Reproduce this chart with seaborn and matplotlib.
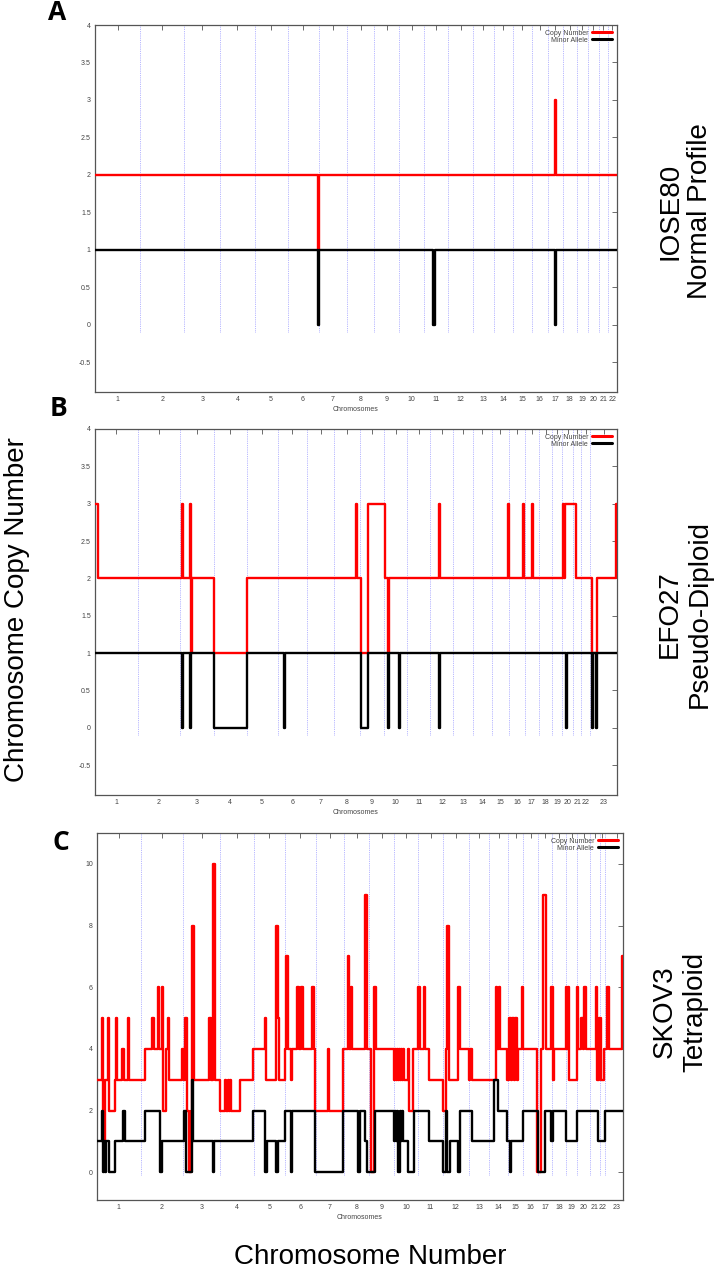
import pandas as pd
import seaborn as sns
import matplotlib.pyplot as plt

# chromosome lengths in Mb (hg19), used for panels A and B
chrom_len = [249.3, 243.2, 198.0, 191.2, 180.9, 171.1, 159.1, 146.4, 141.2, 135.5,
             135.0, 133.9, 115.2, 107.3, 102.5, 90.4, 81.2, 78.1, 59.1, 63.0,
             48.1, 51.3, 155.3]
chrom_labels = [str(i) for i in range(1, 24)]

# panel C chromosome end positions as drawn in that plot
c_chrom_ends = [262, 518, 736, 940, 1126, 1312, 1484, 1634, 1780, 1928, 2074, 2230,
                2354, 2466, 2558, 2648, 2732, 2812, 2882, 2958, 3018, 3046, 3192]
c_xmax = 3156

# --- A: IOSE80 ---
a_cn_pos = [0, 1231, 1237, 2539, 2545, 2881]
a_cn_val = [2, 1, 2, 3, 2, 2]
a_maf_pos = [0, 1231, 1237, 1864, 1876, 2539, 2545, 2881]
a_maf_val = [1, 0, 1, 0, 1, 0, 1, 1]

# --- B: EFO27 ---
b_cn_pos = [0, 16, 504, 510, 550, 556, 562, 692, 884, 1518, 1524, 1547, 1588,
            1687, 1704, 1710, 2000, 2006, 2402, 2408, 2489, 2495, 2544, 2550,
            2720, 2726, 2732, 2797, 2891, 2920, 3030, 3036]
b_cn_val = [3, 2, 3, 2, 3, 1, 2, 1, 2, 3, 2, 1, 3,
            2, 1, 2, 3, 2, 3, 2, 3, 2, 3, 2,
            3, 2, 3, 2, 1, 2, 3, 3]
b_maf_pos = [0, 504, 510, 553, 559, 692, 884, 1099, 1105, 1547, 1588, 1704, 1710,
             1768, 1774, 2000, 2006, 2737, 2743, 2891, 2897, 2914, 2920, 3036]
b_maf_val = [1, 0, 1, 0, 1, 0, 1, 0, 1, 0, 1, 0, 1,
             0, 1, 0, 1, 0, 1, 0, 1, 0, 1, 1]

# --- C: SKOV3 ---
c_cn_pos = [0, 30, 39, 51, 64, 72, 108, 116, 122, 152, 164, 184, 194, 288, 332, 340,
            364, 374, 388, 398, 412, 424, 432, 512, 524, 528, 540, 552, 564, 568,
            580, 674, 682, 694, 708, 738, 768, 774, 783, 789, 798, 804, 856, 936,
            1006, 1016, 1076, 1086, 1092, 1126, 1136, 1146, 1162, 1170, 1200, 1210,
            1226, 1238, 1290, 1302, 1310, 1386, 1394, 1478, 1506, 1514, 1522, 1530,
            1608, 1620, 1644, 1664, 1674, 1780, 1786, 1792, 1798, 1804, 1810, 1816,
            1822, 1828, 1834, 1842, 1864, 1872, 1894, 1928, 1936, 1960, 1970, 1994,
            2074, 2094, 2100, 2112, 2164, 2176, 2234, 2238, 2248, 2391, 2400, 2412,
            2418, 2462, 2472, 2481, 2490, 2499, 2508, 2517, 2526, 2548, 2558, 2642,
            2662, 2678, 2692, 2726, 2736, 2742, 2812, 2820, 2826, 2832, 2878, 2888,
            2906, 2916, 2922, 2932, 2992, 3002, 3012, 3022, 3042, 3058, 3072, 3152,
            3192]
c_cn_val = [3, 5, 1, 3, 5, 2, 3, 5, 3, 4, 3, 5, 3, 4, 5, 4,
            6, 4, 6, 2, 4, 5, 3, 4, 3, 5, 2, 0, 2, 8,
            3, 5, 3, 10, 3, 2, 3, 2, 3, 2, 3, 2, 3, 4,
            5, 3, 8, 5, 3, 4, 7, 4, 3, 4, 6, 4,
            6, 4, 6, 4, 2, 4, 2, 4, 7, 4, 6, 4,
            9, 4, 0, 6, 4, 3, 4, 3, 4, 3, 4, 3,
            4, 3, 4, 3, 4, 2, 4, 6, 4, 6, 4, 3,
            2, 4, 8, 3, 6, 4, 3, 4, 3, 6, 4, 6,
            4, 3, 5, 3, 5, 3, 5, 3, 4, 6, 4, 0,
            4, 9, 4, 6, 3, 4, 6, 4, 6, 3, 6, 4,
            5, 4, 6, 4, 6, 3, 5, 3, 4, 6, 4, 7,
            7]
c_maf_pos = [0, 30, 36, 45, 51, 57, 72, 108, 158, 168, 288, 378, 388, 524, 534,
             572, 578, 696, 702, 936, 1010, 1018, 1076, 1086, 1126, 1162, 1170,
             1310, 1476, 1566, 1576, 1608, 1622, 1668, 1780, 1786, 1792, 1798, 1806,
             1818, 1822, 1828, 1834, 1864, 1900, 1994, 2074, 2094, 2102, 2120, 2164,
             2178, 2250, 2382, 2406, 2462, 2478, 2486, 2558, 2648, 2686, 2726, 2738,
             2812, 2878, 3006, 3048, 3192]
c_maf_val = [1, 2, 0, 1, 0, 1, 0, 1, 2, 1, 2, 0, 1, 2, 0,
             3, 1, 0, 1, 2, 0, 1, 0, 1, 2, 0, 2,
             0, 2, 0, 2, 1, 0, 2, 1, 2, 1, 2, 0,
             2, 1, 2, 1, 0, 2, 1, 0, 2, 0, 1, 0,
             2, 1, 3, 2, 1, 0, 1, 2, 0, 2, 1, 2,
             1, 2, 1, 2, 2]

TICK_GREY = '#444444'


def draw_panel(ax, ends, xmax, cn_pos, cn_val, maf_pos, maf_val, ymax, yticks):
    starts = [0] + ends[:-1]
    centers = [(s + e) / 2 for s, e in zip(starts, ends)]

    # chromosome boundaries
    ax.vlines(ends[:-1], -0.1, ymax, colors='#9f9fff', linestyles=(0, (1, 1.2)), lw=0.6, zorder=1)

    cn = pd.DataFrame({'pos': cn_pos, 'val': cn_val})
    maf = pd.DataFrame({'pos': maf_pos, 'val': maf_val})
    sns.lineplot(data=cn, x='pos', y='val', ax=ax, color='#ff0000', lw=1.7, drawstyle='steps-post',
                 estimator=None, sort=False, label='Copy Number', zorder=3)
    sns.lineplot(data=maf, x='pos', y='val', ax=ax, color='#000000', lw=1.7, drawstyle='steps-post',
                 estimator=None, sort=False, label='Minor Allele', zorder=4)

    ax.set_xlim(0, xmax)
    ax.set_ylim(-0.9, ymax)
    ax.set_xticks(centers)
    ax.set_xticklabels(chrom_labels[:len(ends)])
    ax.set_yticks(yticks)
    ax.set_yticklabels(['%g' % t for t in yticks])
    ax.set_xlabel('Chromosomes', fontsize=5, color=TICK_GREY, labelpad=2)
    ax.set_ylabel('')
    ax.tick_params(direction='in', top=True, right=True, length=3.5, width=0.6,
                   labelsize=5, labelcolor=TICK_GREY, color='#555555', pad=3)
    for sp in ax.spines.values():
        sp.set_color('#555555')
        sp.set_linewidth(0.9)
    leg = ax.legend(loc='upper right', frameon=False, markerfirst=False, fontsize=5,
                    handlelength=3.0, handletextpad=0.5, labelspacing=0.05, borderaxespad=0.25)
    for line in leg.get_lines():
        line.set_linewidth(2.2)
    for t in leg.get_texts():
        t.set_color(TICK_GREY)


def main():
    sns.set_style('white')
    plt.rcParams['font.family'] = ['Liberation Sans', 'DejaVu Sans']
    plt.rcParams['text.color'] = 'black'

    fig = plt.figure(figsize=(7.18, 12.70), dpi=100)
    W, H = 718, 1270

    def box(l, t, r, b):
        return [l / W, 1 - b / H, (r - l) / W, (b - t) / H]

    ends_ab = list(pd.Series(chrom_len).cumsum().round(1))
    half_ticks = [-0.5, 0, 0.5, 1, 1.5, 2, 2.5, 3, 3.5, 4]

    ax_a = fig.add_axes(box(95, 25, 617, 392))
    draw_panel(ax_a, ends_ab[:22], ends_ab[21], a_cn_pos, a_cn_val, a_maf_pos, a_maf_val, 4, half_ticks)

    ax_b = fig.add_axes(box(95, 429, 617, 795))
    draw_panel(ax_b, ends_ab, ends_ab[22], b_cn_pos, b_cn_val, b_maf_pos, b_maf_val, 4, half_ticks)

    ax_c = fig.add_axes(box(97, 833, 623, 1200))
    draw_panel(ax_c, c_chrom_ends, c_xmax, c_cn_pos, c_cn_val, c_maf_pos, c_maf_val, 11, [0, 2, 4, 6, 8, 10])

    big = dict(fontsize=20, family=['Liberation Sans', 'DejaVu Sans'], ha='center', va='center', color='black')
    fig.text(685 / W, 1 - 211 / H, 'IOSE80\nNormal Profile', rotation=90, multialignment='center', **big)
    fig.text(685 / W, 1 - 614 / H, 'EFO27\nPseudo-Diploid', rotation=90, multialignment='center', **big)
    fig.text(680 / W, 1 - 1012 / H, 'SKOV3\nTetraploid', rotation=90, multialignment='center', **big)
    fig.text(17 / W, 1 - 610 / H, 'Chromosome Copy Number', rotation=90, **big)
    fig.text(370 / W, 1 - 1257 / H, 'Chromosome Number', **big)

    letter = dict(fontsize=19, fontweight='bold', family=['Open Sans', 'DejaVu Sans'],
                  ha='center', va='center', color='black')
    fig.text(57 / W, 1 - 13 / H, 'A', **letter)
    fig.text(58 / W, 1 - 409 / H, 'B', **letter)
    fig.text(61 / W, 1 - 843 / H, 'C', **letter)

    fig.savefig('out.png', dpi=100, facecolor='white')
    plt.close(fig)


if __name__ == '__main__':
    main()
